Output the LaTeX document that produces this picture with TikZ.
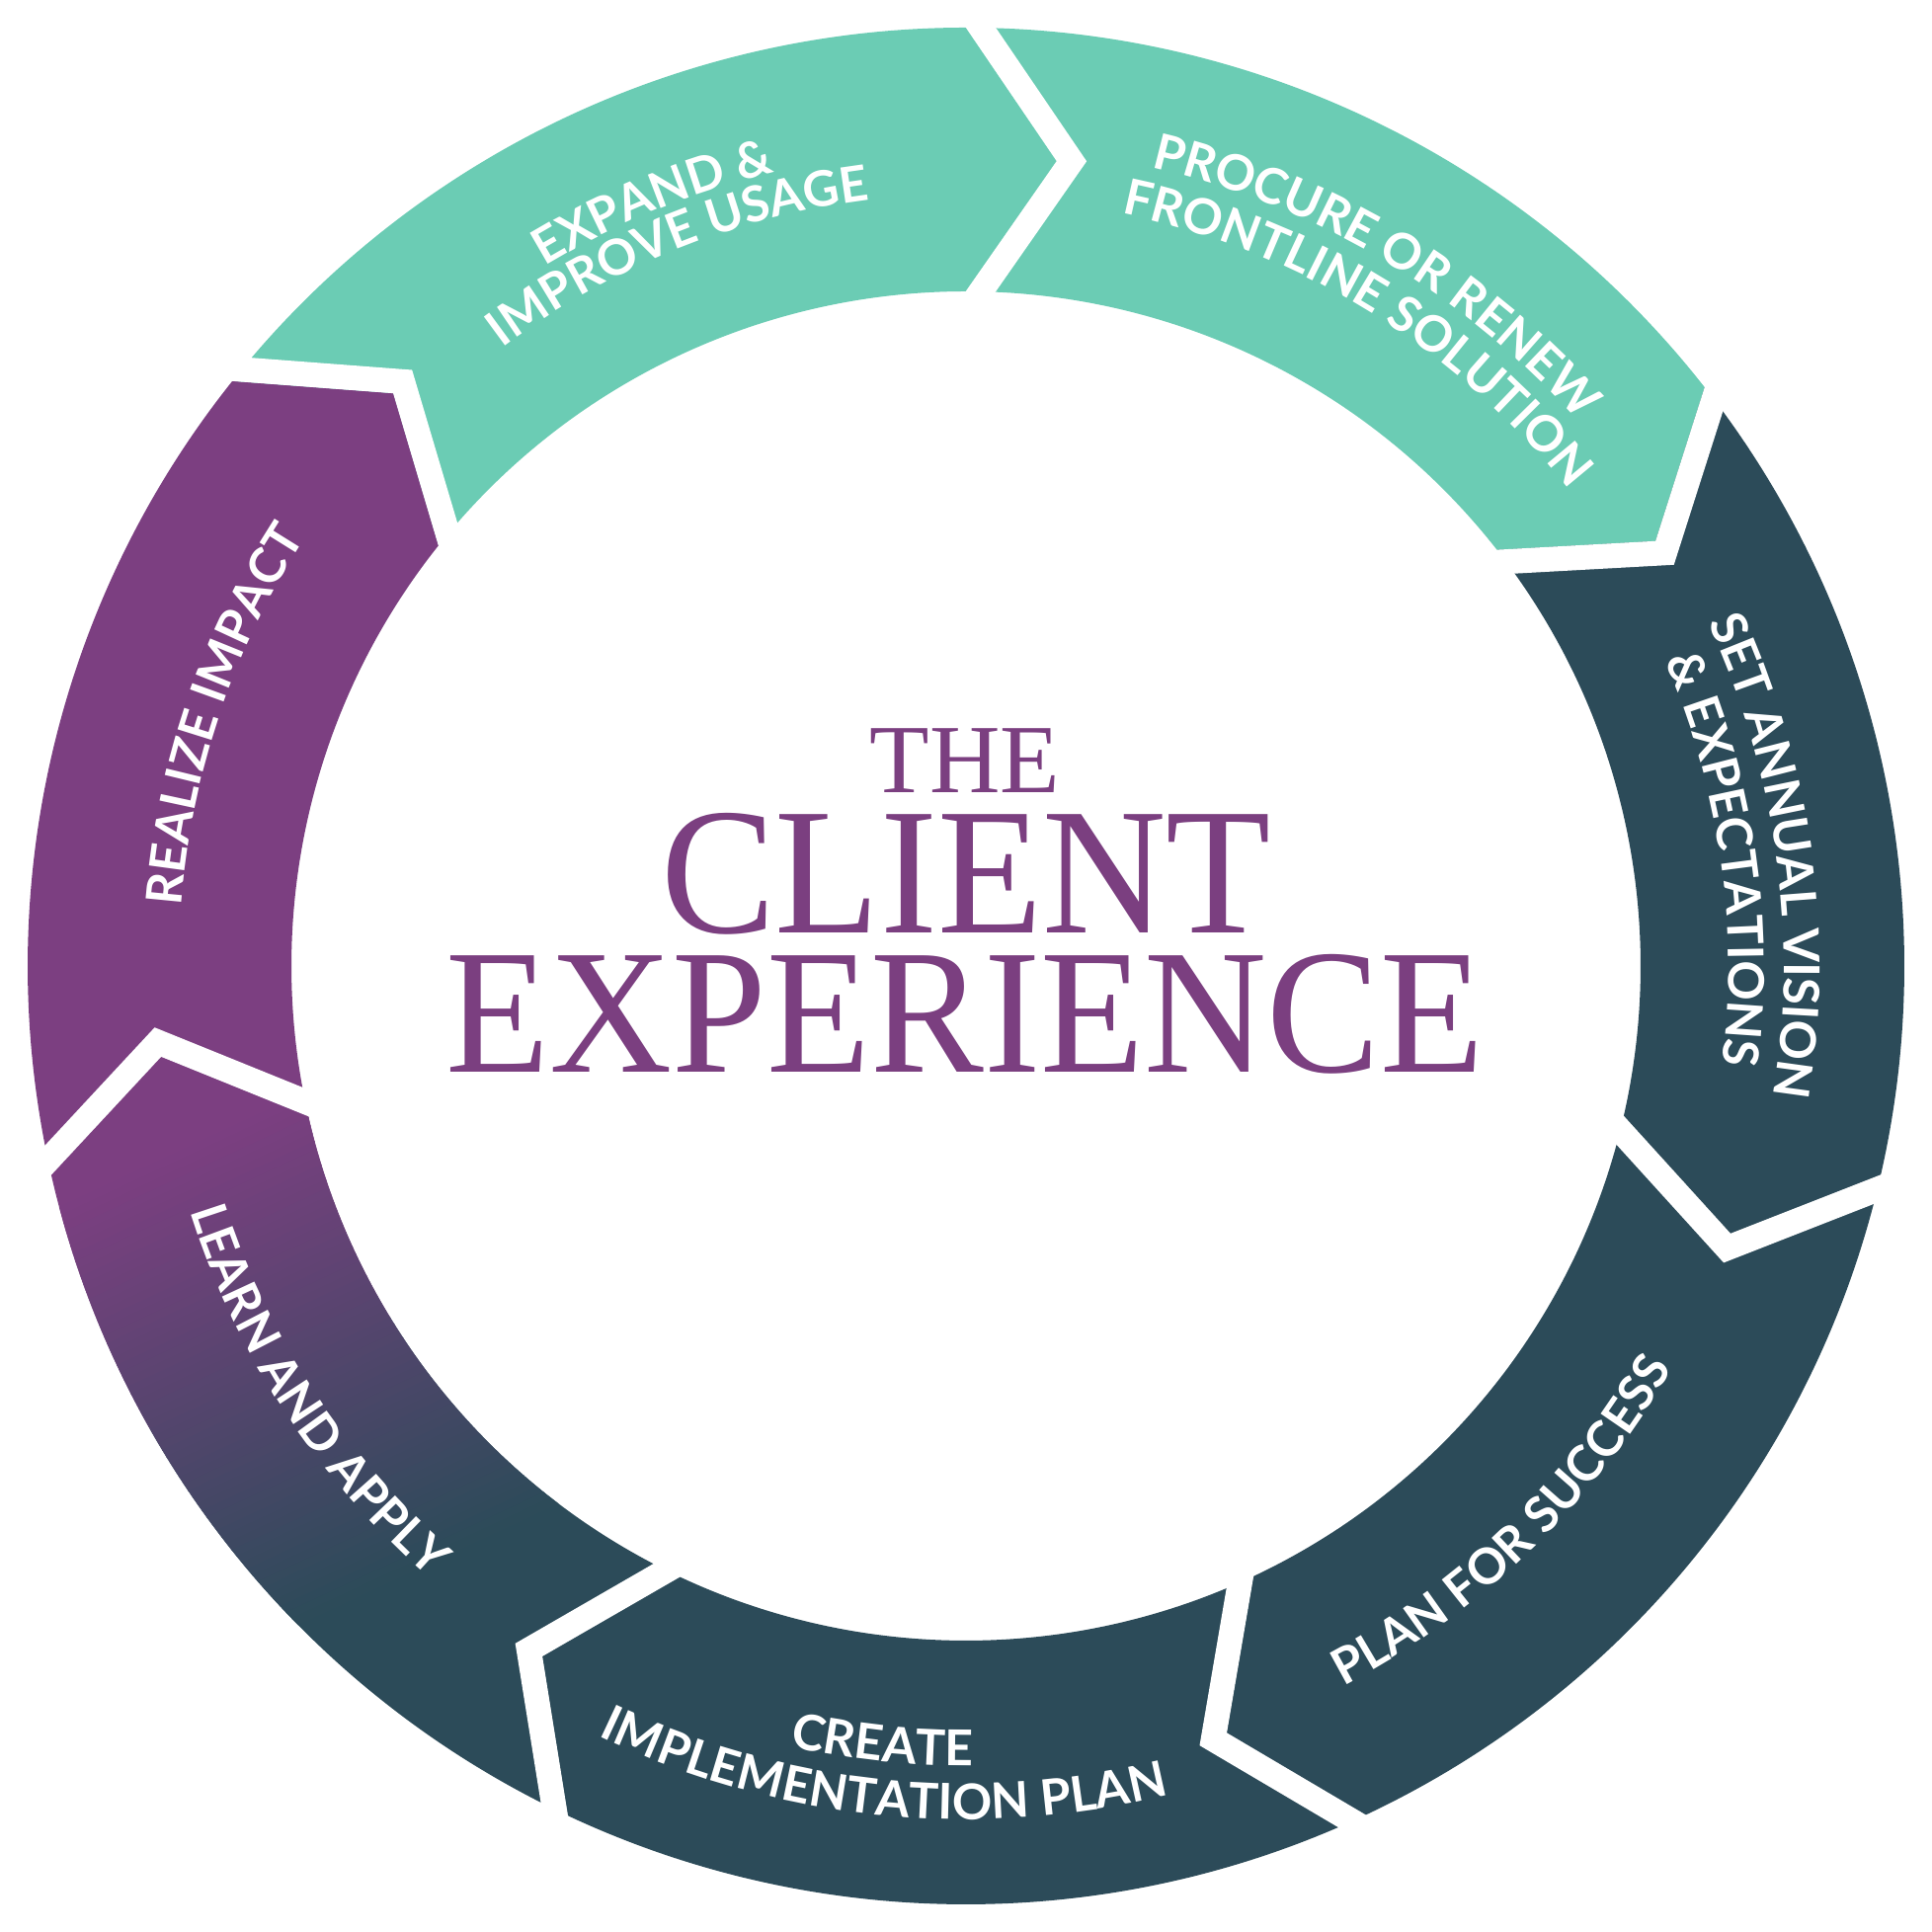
\documentclass[tikz,border=0pt]{standalone}
\usepackage{fontspec}
\setmainfont{Lato}
\newfontfamily\titlefont{Liberation Serif}
\usetikzlibrary{decorations.text}
\definecolor{ringteal}{RGB}{107,204,180}
\definecolor{ringdark}{RGB}{44,75,89}
\definecolor{ringpurple}{RGB}{124,63,129}
\definecolor{titlepurple}{RGB}{123,63,128}
\newcommand\lblfont{\bfseries\fontsize{50}{60}\selectfont}
\newcommand\cwtext[3]{\path[decorate,decoration={text along path,text align=center,text color=white,text={|\lblfont|#3}}] (140-#1:#2) arc[start angle=140-#1, end angle=40-#1, radius=#2];}
\newcommand\ccwtext[3]{\path[decorate,decoration={text along path,text align=center,text color=white,text={|\lblfont|#3}}] (40-#1:#2) arc[start angle=40-#1, end angle=140-#1, radius=#2];}
% segment outline between boundary bearings #1 and #2
\newcommand\segoutline[2]{(90-#1:950) arc[start angle=90-#1, end angle=90-#2, radius=950] -- (90-#2-6.44:820) -- (90-#2:683) arc[start angle=90-#2, end angle=90-#1, radius=683] -- (90-#1-6.44:820) -- cycle}
\tikzset{gapline/.style={white, line width=25, line join=miter, shorten <=-40, shorten >=-40}}
\begin{document}
\begin{tikzpicture}[x=1pt,y=1pt]
\useasboundingbox (0,0) rectangle (1956,1956);
\fill[white] (0,0) rectangle (1956,1956);
\begin{scope}[shift={(978,978)}]
  % ring segments (bearings clockwise from north)
  \foreach \ba/\bb/\col in {0/51.93/ringteal, 51.93/102.86/ringdark, 102.86/154.79/ringdark, 154.79/205.11/ringdark, 257.14/308.57/ringpurple, 308.57/360/ringteal}{
    \fill[\col] \segoutline{\ba}{\bb};
  }
  % learn and apply: purple to dark gradient
  \begin{scope}
    \clip \segoutline{205.11}{257.14};
    \begin{scope}[shift={(-725.5,-422)}, rotate=25]
      \fill[ringpurple] (-1200,0) rectangle (1200,1200);
      \fill[ringdark] (-1200,0) rectangle (1200,-1200);
      \foreach \i in {0,...,59}{
        \pgfmathsetmacro\p{100*(\i+0.5)/60}
        \pgfmathsetmacro\yt{242.5-\i*8.0833}
        \pgfmathsetmacro\yb{\yt-8.9}
        \fill[ringdark!\p!ringpurple] (-1200,\yt) rectangle (1200,\yb);
      }
    \end{scope}
  \end{scope}
  % white gaps
  \foreach \b in {0,51.93,102.86,154.79,205.11,257.14,308.57}{
    \draw[gapline, shift={(-\b:15)}] (90-\b:950) -- (90-\b-6.44:820) -- (90-\b:683);
  }
  % labels
  \cwtext{337.7}{827}{EXPAND {\&}}
  \cwtext{338}{782}{IMPROVE USAGE}
  \cwtext{30.7}{830}{PROCURE OR RENEW}
  \cwtext{31.7}{778}{FRONTLINE SOLUTION}
  \cwtext{82.2}{828}{SET ANNUAL VISION}
  \cwtext{81.9}{772}{{\&} EXPECTATIONS}
  \ccwtext{136}{823}{PLAN FOR SUCCESS}
  \ccwtext{186.1}{810}{CREATE}
  \ccwtext{185.9}{864}{IMPLEMENTATION PLAN}
  \ccwtext{236.8}{824}{LEARN AND APPLY}
  \cwtext{288.7}{797}{REALIZE IMPACT}
\end{scope}
% title
\node[font={\titlefont\fontsize{99}{99}\selectfont}, text=titlepurple, anchor=base, inner sep=0] (the) at (977,1153) {THE};
\node[font={\titlefont\fontsize{183}{183}\selectfont}, text=titlepurple, anchor=base, inner sep=0, xscale=0.95] (client) at (978,1011) {CLIENT};
\node[font={\titlefont\fontsize{180}{180}\selectfont}, text=titlepurple, anchor=base, inner sep=0, xscale=0.956] (experience) at (977,870) {EXPERIENCE};
\end{tikzpicture}
\end{document}
